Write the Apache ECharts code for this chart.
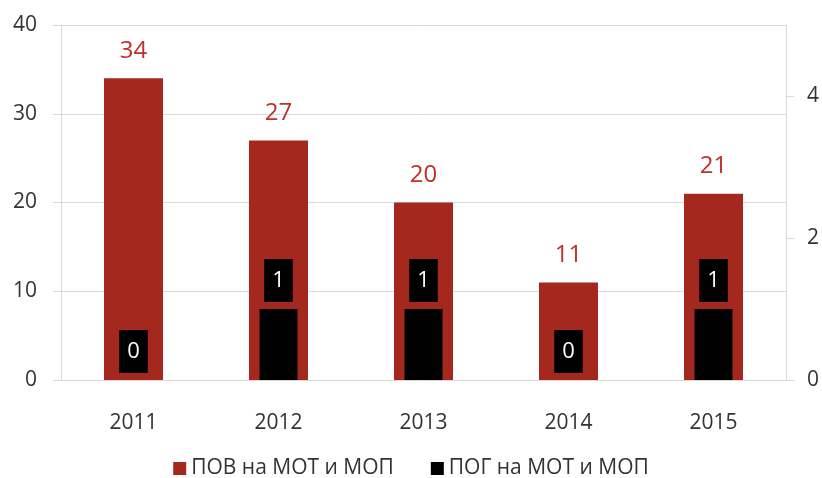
<!DOCTYPE html>
<html>
<head>
<meta charset="utf-8">
<script src="https://cdn.jsdelivr.net/npm/echarts@6/dist/echarts.min.js"></script>
<style>
  html, body { margin: 0; padding: 0; background: #fff; }
  #chart { width: 822px; height: 478px; }
</style>
</head>
<body>
<div id="chart"></div>
<script>
var years = ['2011', '2012', '2013', '2014', '2015']
var povValues = [34, 27, 20, 11, 21]
var pogValues = [0, 1, 1, 0, 1]
var leftTicks = [0, 10, 20, 30, 40]
var rightTicks = [0, 2, 4]
var seriesNames = ['ПОВ на МОТ и МОП', 'ПОГ на МОТ и МОП']

var chart = echarts.init(document.getElementById('chart'))
var font = '"Open Sans", "Noto Sans", sans-serif'

var option = {
  animation: false,
  textStyle: { fontFamily: font },
  grid: {
    // plot area
    left: 61,
    right: 34,
    top: 25,
    bottom: 98
  },
  legend: {
    top: 453,
    left: 'center',
    icon: 'rect',
    itemWidth: 13,
    itemHeight: 13,
    itemGap: 37,
    textStyle: { fontSize: 21, color: '#333', fontFamily: font },
    data: seriesNames
  },
  xAxis: [
    {
      type: 'category',
      data: years,
      axisLine: { show: false },
      axisTick: { show: false },
      axisLabel: { fontSize: 21, color: '#333', margin: 33, fontFamily: font }
    },
    {
      type: 'category',
      data: years,
      show: false
    }
  ],
  yAxis: [
    {
      type: 'value',
      min: leftTicks[0],
      max: leftTicks[leftTicks.length - 1],
      interval: 10,
      axisLine: { show: true, lineStyle: { color: '#d9d9d9' } },
      axisTick: { show: true, length: 8, lineStyle: { color: '#d9d9d9' } },
      axisLabel: { fontSize: 21, color: '#333', margin: 24, fontFamily: font },
      splitLine: { show: true, lineStyle: { color: '#d9d9d9' } }
    },
    {
      type: 'value',
      position: 'right',
      min: 0,
      max: 5,
      axisLine: { show: true, lineStyle: { color: '#d9d9d9' } },
      axisTick: { show: true, length: 8, customValues: rightTicks, lineStyle: { color: '#d9d9d9' } },
      axisLabel: { fontSize: 21, color: '#333', margin: 21, customValues: rightTicks, fontFamily: font },
      splitLine: { show: false }
    }
  ],
  series: [
    {
      name: seriesNames[0],
      type: 'bar',
      xAxisIndex: 0,
      yAxisIndex: 0,
      data: povValues,
      barWidth: 59,
      itemStyle: { color: '#A5281F' },
      label: {
        show: true,
        position: 'top',
        distance: 15,
        fontSize: 24,
        color: '#C0302B',
        fontFamily: font
      }
    },
    {
      name: seriesNames[1],
      type: 'bar',
      xAxisIndex: 1,
      yAxisIndex: 1,
      data: pogValues,
      barWidth: 38,
      itemStyle: { color: '#000' },
      label: {
        show: true,
        position: 'top',
        distance: 7,
        fontSize: 22,
        lineHeight: 23,
        color: '#fff',
        backgroundColor: '#000',
        padding: [10, 8],
        fontFamily: font
      }
    }
  ]
}

chart.setOption(option)
</script>
</body>
</html>
